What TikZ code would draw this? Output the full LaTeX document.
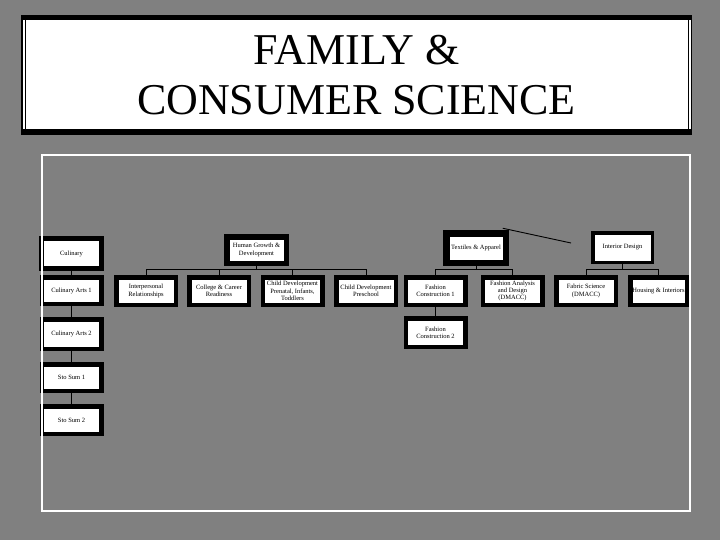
\documentclass[tikz,border=0pt]{standalone}
\usepackage{fontspec}
\setmainfont{Liberation Serif}
\usetikzlibrary{positioning}

\begin{document}
\begin{tikzpicture}[x=1pt,y=-1pt,
  unit/.style={draw,line width=4.5pt,fill=white,minimum width=59.5pt,
    minimum height=27.5pt,inner sep=0.5pt,outer sep=0pt,align=center,
    font=\fontsize{6.5}{7.4}\selectfont},
  head/.style={unit,minimum height=29.5pt},
  link/.style={line width=0.9pt}
]
% background and title banner
\fill[gray] (0,0) rectangle (720,540);
\fill[black] (21,15) rectangle (692,135);
\fill[white] (22.5,20) rectangle (690.5,129);
\draw[line width=1pt] (25,20) -- (25,129) (688,20) -- (688,129);
\node[align=center,font=\fontsize{44}{50}\selectfont] (title) at (356.5,75)
  {FAMILY \&\\CONSUMER SCIENCE};

% culinary column
\node[head,line width=5pt,minimum width=60pt,minimum height=30pt] (cul) at (71.5,253.5) {Culinary};
\node[unit,minimum height=26.5pt] (ca1) at (71.5,290.5) {Culinary Arts 1};
\node[unit,minimum height=29.5pt] (ca2) at (71.5,334) {Culinary Arts 2};
\node[unit,minimum height=26.5pt] (ss1) at (71.5,377.5) {Sto Sum 1};
\node[unit,minimum height=27.5pt] (ss2) at (71.5,420) {Sto Sum 2};
\draw[link] (cul) -- (ca1) -- (ca2) -- (ss1) -- (ss2);

% human growth
\node[head,line width=5.5pt,minimum height=26.5pt] (hgd) at (256.5,250)
  {Human Growth \&\\Development};
\node[unit] (ip) at (146,291) {Interpersonal\\Relationships};
\node[unit] (ccr) at (219,291) {College \& Career\\Readiness};
\node[unit] (cdp) at (292.5,291) {Child Development\\Prenatal, Infants,\\Toddlers};
\node[unit] (cds) at (366,291) {Child Development\\Preschool};
\foreach \c in {ip,ccr,cdp,cds}
  \draw[link] (hgd.south) -- ++(0,6) -| (\c.north);

% textiles
\node[head,line width=6.5pt] (tex) at (476,248) {Textiles \& Apparel};
\node[unit] (fc1) at (435.5,291) {Fashion\\Construction 1};
\node[unit] (fad) at (512.5,291) {Fashion Analysis\\and Design\\(DMACC)};
\node[unit,minimum height=28.5pt] (fc2) at (435.5,332.5) {Fashion\\Construction 2};
\foreach \c in {fc1,fad}
  \draw[link] (tex.south) -- ++(0,6.5) -| (\c.north);
\draw[link] (fc1) -- (fc2);
\coordinate (stray) at (571,243);
\draw[link] (tex.north east) ++(-3,-5) -- (stray);

% interior design
\node[head,line width=3.5pt] (int) at (622.5,247.5) {Interior Design};
\node[unit] (fs) at (586,291) {Fabric Science\\(DMACC)};
\node[unit,minimum width=56.5pt] (hi) at (658.5,291) {Housing \& Interiors};
\foreach \c in {fs,hi}
  \draw[link] (int.south) -- ++(0,7) -| (\c.north);

% white frame
\draw[white,line width=2pt] (42,155) rectangle (690,511);
\end{tikzpicture}
\end{document}
